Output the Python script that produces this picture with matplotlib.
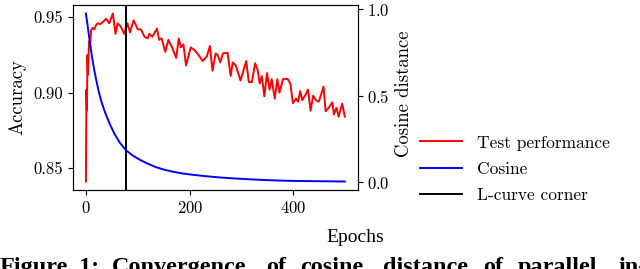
import numpy as np
import matplotlib
matplotlib.use('Agg')
import matplotlib.pyplot as plt

matplotlib.rcParams['font.family'] = 'serif'
matplotlib.rcParams['font.serif'] = ['cmr10']
matplotlib.rcParams['mathtext.fontset'] = 'cm'
matplotlib.rcParams['axes.formatter.use_mathtext'] = True

# test accuracy per epoch
acc_epochs = [0, 1, 2, 3, 4, 6, 8, 10, 13, 16, 20, 23, 28, 33, 39, 45, 52, 57, 61, 67,
              74, 80, 85, 92, 100, 106, 113, 119, 122, 128, 137, 141, 146, 153, 159, 166,
              174, 179, 183, 188, 193, 202, 210, 217, 225, 233, 239, 244, 250, 254, 259,
              264, 273, 279, 283, 289, 298, 309, 314, 320, 326, 331, 335, 339, 344, 349,
              354, 358, 364, 369, 373, 380, 389, 394, 399, 405, 409, 413, 417, 424, 428,
              433, 438, 443, 449, 458, 462, 468, 475, 478, 483, 487, 494, 499]
accuracy = [0.841, 0.902, 0.888, 0.925, 0.912, 0.934, 0.930, 0.9415, 0.943, 0.942, 0.945,
            0.946, 0.9455, 0.947, 0.949, 0.946, 0.9525, 0.939, 0.946, 0.944, 0.939, 0.946,
            0.940, 0.948, 0.942, 0.942, 0.937, 0.936, 0.939, 0.937, 0.9425, 0.935, 0.936,
            0.927, 0.935, 0.930, 0.923, 0.936, 0.930, 0.932, 0.918, 0.930, 0.928, 0.925,
            0.921, 0.924, 0.931, 0.9145, 0.926, 0.925, 0.920, 0.926, 0.9265, 0.911, 0.920,
            0.918, 0.908, 0.921, 0.907, 0.907, 0.9195, 0.915, 0.906, 0.911, 0.8976, 0.913,
            0.902, 0.909, 0.896, 0.909, 0.900, 0.909, 0.909, 0.906, 0.893, 0.896, 0.894,
            0.901, 0.895, 0.899, 0.902, 0.888, 0.898, 0.895, 0.894, 0.904, 0.8877, 0.890,
            0.8936, 0.8855, 0.890, 0.884, 0.8927, 0.884]

# cosine distance per epoch
cos_epochs = [0, 4, 8, 12, 16, 20, 25, 30, 35, 40, 47, 55, 65, 77, 90, 103, 120, 135,
              150, 167, 185, 203, 230, 260, 290, 320, 350, 380, 410, 440, 470, 499]
cos_dist = [0.975, 0.89, 0.80, 0.72, 0.65, 0.59, 0.52, 0.465, 0.42, 0.38, 0.33, 0.28,
            0.23, 0.185, 0.155, 0.131, 0.106, 0.087, 0.073, 0.061, 0.051, 0.044, 0.035,
            0.027, 0.021, 0.016, 0.012, 0.009, 0.007, 0.006, 0.005, 0.004]

corner_epoch = 77
legend_labels = ['Test performance', 'Cosine', 'L-curve corner']

fig = plt.figure(figsize=(6.4, 2.69), dpi=100)
ax = fig.add_axes([0.114, 0.294, 0.445, 0.687])
ax2 = ax.twinx()

l1, = ax.plot(acc_epochs, accuracy, color='#ff0000', lw=1.4)
l2, = ax2.plot(cos_epochs, cos_dist, color='#0000ff', lw=1.4)
l3 = ax.axvline(corner_epoch, color='black', lw=1.4)

ax.set_xticks([0, 200, 400])
ax.set_yticks([0.85, 0.90, 0.95])
ax.set_yticklabels(['0.85', '0.90', '0.95'])
ax2.set_yticks([0.0, 0.5, 1.0])
ax.tick_params(labelsize=12)
ax2.tick_params(labelsize=12)

ax.set_ylabel('Accuracy', fontsize=13.5)
ax.yaxis.set_label_coords(-0.165, 0.5)
ax2.set_ylabel('Cosine distance', fontsize=13.5)
ax2.yaxis.set_label_coords(1.13, 0.52)

fig.legend([l1, l2, l3], legend_labels, loc='center left',
           bbox_to_anchor=(0.656, 0.372), frameon=False, fontsize=12.5,
           borderpad=0, borderaxespad=0, handlelength=2.4, handletextpad=0.9,
           labelspacing=0.62)

fig.text(355 / 640, 1 - 237 / 269, 'Epochs', fontsize=14, family='Liberation Serif',
         ha='center', va='center')

# caption line, justified like in the paper (cut off at the bottom edge)
caption_words = ['Figure', '1:', 'Convergence', 'of', 'cosine', 'distance', 'of',
                 'parallel', 'in-']
caption_x = [0, 79, 112, 266, 300, 383, 483, 518, 618]
for w, x in zip(caption_words, caption_x):
    fig.text(x / 640, -4 / 269, w, fontsize=17.5, fontweight='bold',
             family='Liberation Serif', ha='left', va='baseline')

fig.savefig('out.png', dpi=100)
